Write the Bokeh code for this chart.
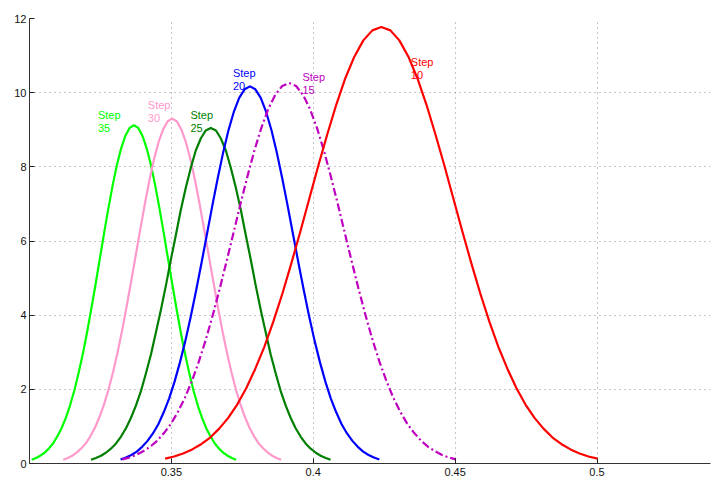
from bokeh.plotting import figure
from bokeh.models import Range1d, FixedTicker
from bokeh.core.properties import value
from bokeh.embed import file_html
from bokeh.resources import INLINE

# ---- data ----
step35_x = [0.3008, 0.3023, 0.3038, 0.3053, 0.3068, 0.3083, 0.3098, 0.3113, 0.3128, 0.3143, 0.3158, 0.3173,
            0.3188, 0.3203, 0.3218, 0.3233, 0.3248, 0.3263, 0.3278, 0.3293, 0.3308, 0.3323, 0.3338, 0.3353,
            0.3368,
            0.3383, 0.3398, 0.3413, 0.3428, 0.3443, 0.3458, 0.3473, 0.3488, 0.3503, 0.3518, 0.3533, 0.3548,
            0.3563, 0.3578, 0.3593, 0.3608, 0.3623, 0.3638, 0.3653, 0.3668, 0.3683, 0.3698, 0.3713, 0.3728]
step35_y = [0.10, 0.15, 0.21, 0.29, 0.40, 0.54, 0.73, 0.95, 1.23, 1.57, 1.97, 2.44,
            2.96, 3.54, 4.18, 4.84, 5.53, 6.22, 6.88, 7.50, 8.05, 8.50, 8.84, 9.05,
            9.12,
            9.05, 8.84, 8.50, 8.05, 7.50, 6.88, 6.22, 5.53, 4.84, 4.18, 3.54, 2.96,
            2.44, 1.97, 1.57, 1.23, 0.95, 0.73, 0.54, 0.40, 0.29, 0.21, 0.15, 0.10]

step30_x = [0.3119, 0.3135, 0.3151, 0.3167, 0.3183, 0.3199, 0.3215, 0.3231, 0.3247, 0.3263, 0.3279, 0.3295,
            0.3311, 0.3327, 0.3343, 0.3359, 0.3375, 0.3391, 0.3407, 0.3423, 0.3439, 0.3455, 0.3471, 0.3487,
            0.3503,
            0.3519, 0.3535, 0.3551, 0.3567, 0.3583, 0.3599, 0.3615, 0.3631, 0.3647, 0.3663, 0.3679, 0.3695,
            0.3711, 0.3727, 0.3743, 0.3759, 0.3775, 0.3791, 0.3807, 0.3823, 0.3839, 0.3855, 0.3871, 0.3887]
step30_y = [0.10, 0.15, 0.21, 0.30, 0.41, 0.55, 0.74, 0.97, 1.26, 1.60, 2.01, 2.48,
            3.02, 3.61, 4.26, 4.94, 5.64, 6.34, 7.02, 7.65, 8.21, 8.67, 9.01, 9.23,
            9.30,
            9.23, 9.01, 8.67, 8.21, 7.65, 7.02, 6.34, 5.64, 4.94, 4.26, 3.61, 3.02,
            2.48, 2.01, 1.60, 1.26, 0.97, 0.74, 0.55, 0.41, 0.30, 0.21, 0.15, 0.10]

step25_x = [0.3217, 0.3234, 0.3252, 0.3269, 0.3287, 0.3305, 0.3322, 0.3340, 0.3357, 0.3375, 0.3393, 0.3410,
            0.3428, 0.3445, 0.3463, 0.3481, 0.3498, 0.3516, 0.3533, 0.3551, 0.3569, 0.3586, 0.3604, 0.3621,
            0.3639,
            0.3657, 0.3674, 0.3692, 0.3709, 0.3727, 0.3745, 0.3762, 0.3780, 0.3797, 0.3815, 0.3833, 0.3850,
            0.3868, 0.3885, 0.3903, 0.3921, 0.3938, 0.3956, 0.3973, 0.3991, 0.4009, 0.4026, 0.4044, 0.4061]
step25_y = [0.10, 0.15, 0.21, 0.29, 0.40, 0.54, 0.72, 0.95, 1.22, 1.56, 1.96, 2.42,
            2.94, 3.52, 4.14, 4.81, 5.49, 6.17, 6.83, 7.44, 7.99, 8.44, 8.77, 8.98,
            9.05,
            8.98, 8.77, 8.44, 7.99, 7.44, 6.83, 6.17, 5.49, 4.81, 4.14, 3.52, 2.94,
            2.42, 1.96, 1.56, 1.22, 0.95, 0.72, 0.54, 0.40, 0.29, 0.21, 0.15, 0.10]

step20_x = [0.3321, 0.3340, 0.3359, 0.3378, 0.3397, 0.3416, 0.3435, 0.3454, 0.3473, 0.3492, 0.3511, 0.3530,
            0.3549, 0.3568, 0.3587, 0.3606, 0.3625, 0.3644, 0.3663, 0.3682, 0.3701, 0.3720, 0.3739, 0.3758,
            0.3777,
            0.3796, 0.3815, 0.3834, 0.3853, 0.3872, 0.3891, 0.3910, 0.3929, 0.3948, 0.3967, 0.3986, 0.4005,
            0.4024, 0.4043, 0.4062, 0.4081, 0.4100, 0.4119, 0.4138, 0.4157, 0.4176, 0.4195, 0.4214, 0.4233]
step20_y = [0.11, 0.16, 0.23, 0.32, 0.45, 0.61, 0.81, 1.06, 1.38, 1.75, 2.20, 2.72,
            3.30, 3.95, 4.66, 5.40, 6.17, 6.94, 7.68, 8.37, 8.98, 9.48, 9.86, 10.09,
            10.17,
            10.09, 9.86, 9.48, 8.98, 8.37, 7.68, 6.94, 6.17, 5.40, 4.66, 3.95, 3.30,
            2.72, 2.20, 1.75, 1.38, 1.06, 0.81, 0.61, 0.45, 0.32, 0.23, 0.16, 0.11]

step15_x = [0.33270, 0.33515, 0.33760, 0.34005, 0.34250, 0.34495, 0.34740, 0.34985, 0.35230, 0.35475,
            0.35720, 0.35965, 0.36210, 0.36455, 0.36700, 0.36945, 0.37190, 0.37435, 0.37680, 0.37925,
            0.38170, 0.38415, 0.38660, 0.38905,
            0.39150,
            0.39395, 0.39640, 0.39885, 0.40130, 0.40375, 0.40620, 0.40865, 0.41110, 0.41355, 0.41600,
            0.41845, 0.42090, 0.42335, 0.42580, 0.42825, 0.43070, 0.43315, 0.43560, 0.43805, 0.44050,
            0.44295, 0.44540, 0.44785, 0.45030]
step15_y = [0.11, 0.16, 0.23, 0.33, 0.45, 0.61, 0.82, 1.07, 1.39, 1.77, 2.22, 2.74,
            3.33, 3.99, 4.70, 5.45, 6.22, 7.00, 7.74, 8.44, 9.05, 9.56, 9.94, 10.18,
            10.26,
            10.18, 9.94, 9.56, 9.05, 8.44, 7.74, 7.00, 6.22, 5.45, 4.70, 3.99, 3.33,
            2.74, 2.22, 1.77, 1.39, 1.07, 0.82, 0.61, 0.45, 0.33, 0.23, 0.16, 0.11]

step10_x = [0.34780, 0.35098, 0.35415, 0.35733, 0.36050, 0.36368, 0.36685, 0.37003, 0.37320, 0.37638,
            0.37955, 0.38273, 0.38590, 0.38908, 0.39225, 0.39543, 0.39860, 0.40178, 0.40495, 0.40813,
            0.41130, 0.41448, 0.41765, 0.42083,
            0.42400,
            0.42718, 0.43035, 0.43353, 0.43670, 0.43988, 0.44305, 0.44623, 0.44940, 0.45258, 0.45575,
            0.45893, 0.46210, 0.46528, 0.46845, 0.47163, 0.47480, 0.47798, 0.48115, 0.48433, 0.48750,
            0.49068, 0.49385, 0.49703, 0.50020]
step10_y = [0.13, 0.19, 0.27, 0.38, 0.52, 0.70, 0.94, 1.23, 1.59, 2.03, 2.55, 3.14,
            3.82, 4.57, 5.39, 6.25, 7.14, 8.03, 8.88, 9.68, 10.39, 10.97, 11.41, 11.68,
            11.77,
            11.68, 11.41, 10.97, 10.39, 9.68, 8.88, 8.03, 7.14, 6.25, 5.39, 4.57, 3.82,
            3.14, 2.55, 2.03, 1.59, 1.23, 0.94, 0.70, 0.52, 0.38, 0.27, 0.19, 0.13]

label_texts = ["Step\n35", "Step\n30", "Step\n25", "Step\n20", "Step\n15", "Step\n10"]
label_x = [0.3241, 0.3417, 0.3567, 0.3717, 0.3962, 0.4344]
label_y = [9.57, 9.84, 9.57, 10.69, 10.59, 11.00]

x_ticks = [0.35, 0.4, 0.45, 0.5]
x_tick_labels = {0.35: "0.35", 0.4: "0.4", 0.45: "0.45", 0.5: "0.5"}
y_ticks = [0, 2, 4, 6, 8, 10, 12]

# ---- figure ----
p = figure(width=713, height=480, output_backend="svg", toolbar_location=None,
           x_range=Range1d(0.3, 0.54), y_range=Range1d(0, 12),
           min_border_left=29, min_border_right=3, min_border_top=18, min_border_bottom=17)
p.outline_line_color = None
p.background_fill_color = "white"

font = "Liberation Sans"

p.xaxis.ticker = FixedTicker(ticks=x_ticks)
p.xaxis.major_label_overrides = x_tick_labels
p.yaxis.ticker = FixedTicker(ticks=y_ticks)
for ax in (p.xaxis, p.yaxis):
    ax.axis_line_color = "#333333"
    ax.axis_line_width = 1
    ax.major_tick_in = 5
    ax.major_tick_out = 0
    ax.minor_tick_line_color = None
    ax.major_tick_line_color = "#222222"
    ax.major_label_text_font = font
    ax.major_label_text_font_size = "11px"
    ax.major_label_text_color = "#111111"
p.xaxis.major_label_standoff = 4
p.yaxis.major_label_standoff = 3

p.xgrid.ticker = FixedTicker(ticks=x_ticks)
p.ygrid.ticker = FixedTicker(ticks=y_ticks[1:])
for g in (p.xgrid, p.ygrid):
    g.grid_line_color = "#8c8c8c"
    g.grid_line_dash = "1 4"
    g.grid_line_width = 1

series = [
    (step35_x, step35_y, "#00FF00", "solid"),
    (step30_x, step30_y, "#FF99CC", "solid"),
    (step25_x, step25_y, "#007F00", "solid"),
    (step20_x, step20_y, "#0000FF", "solid"),
    (step15_x, step15_y, "#BF00BF", "8 3 2 3"),
    (step10_x, step10_y, "#FF0000", "solid"),
]
for xs, ys, c, d in series:
    p.line(xs, ys, line_color=c, line_width=2.2, line_dash=d, line_join="round")

label_colors = ["#00FF00", "#FF99CC", "#007F00", "#0000FF", "#BF00BF", "#FF0000"]
for t, lx, ly, c in zip(label_texts, label_x, label_y, label_colors):
    p.text(x=[lx], y=[ly], text=[t], text_color=c, text_font=value(font),
           text_font_size="11px", text_baseline="top", text_align="left",
           text_line_height=1.1)

open("out.html", "w").write(file_html(p, INLINE))
